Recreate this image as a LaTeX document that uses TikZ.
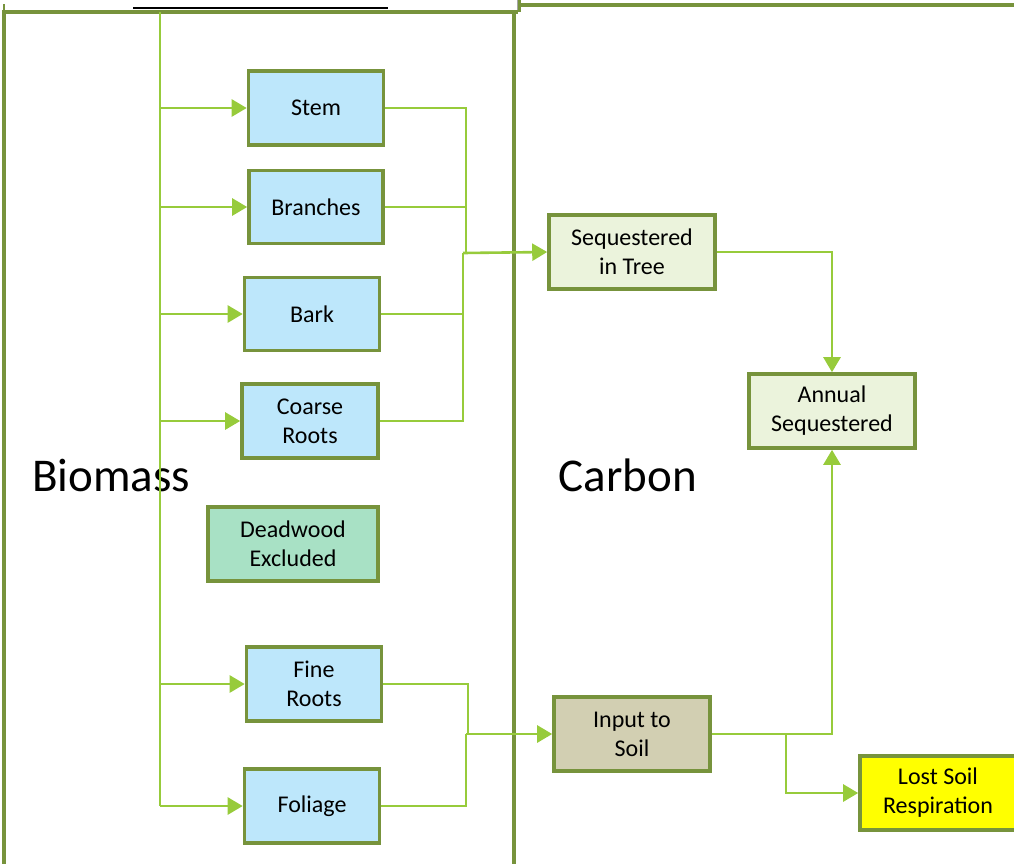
\documentclass[tikz,border=0pt]{standalone}
\usepackage{fontspec}
\setmainfont{Carlito}
\usetikzlibrary{arrows.meta}
\definecolor{bord}{HTML}{77933C}
\definecolor{conn}{HTML}{97CB3B}
\definecolor{fblue}{HTML}{BDE7FB}
\definecolor{fgreen}{HTML}{EBF3DC}
\definecolor{fmint}{HTML}{A8E1C5}
\definecolor{ftan}{HTML}{D2CFB2}
\definecolor{fyel}{HTML}{FFFF00}
\begin{document}
\begin{tikzpicture}[x=1pt,y=-1pt,
  boxs/.style={draw=bord,line width=3.6pt,align=center,inner sep=0pt,
    font=\fontsize{24}{29}\selectfont},
  bx/.style 2 args={boxs,minimum width=#1,minimum height=#2},
  link/.style={draw=conn,line width=2.6pt},
  arr/.style={link,-{Triangle[length=15pt,width=17pt]}},
  big/.style={font=\fontsize{47}{50}\selectfont,inner sep=0pt}]
\useasboundingbox (0,0) rectangle (1014,863);
% panels
\draw[bord,line width=4pt] (4,870) -- (4,12) -- (518,12);
\draw[bord,line width=2.5pt] (4,12) -- (4,4);
\draw[bord,line width=4pt] (514,12) -- (514,870);
\draw[bord,line width=3.5pt] (519,0) -- (519,12);
\draw[bord,line width=3.5pt] (519,5) -- (1020,5);
\draw[gray!70,line width=0.8pt] (517,-2) -- (517,10);
\draw[black,line width=2.5pt] (133,8) -- (388,8);
% labels
\node[big] (biomass) at (111,475) {Biomass};
\node[big] (carbon) at (628,475) {Carbon};
% boxes
\node[bx={135pt}{74pt},fill=fblue] (stem) at (316,108) {Stem};
\node[bx={134pt}{73pt},fill=fblue] (branch) at (316,207) {Branches};
\node[bx={135pt}{73pt},fill=fblue] (bark) at (312,314) {Bark};
\node[bx={136pt}{74pt},fill=fblue] (coarse) at (310,421) {Coarse\\Roots};
\node[bx={170pt}{74pt},fill=fmint] (dead) at (293,544) {Deadwood\\Excluded};
\node[bx={135pt}{74pt},fill=fblue] (fine) at (314,684) {Fine\\Roots};
\node[bx={135pt}{74pt},fill=fblue] (foliage) at (312,806) {Foliage};
\node[bx={166pt}{74pt},fill=fgreen] (seq) at (632,252) {Sequestered\\in Tree};
\node[bx={166pt}{74pt},fill=fgreen] (annual) at (832,411) {Annual\\Sequestered};
\node[bx={156pt}{74pt},fill=ftan] (soil) at (632,734) {Input to\\Soil};
\node[bx={156pt}{74pt},fill=fyel] (lost) at (938,793) {Lost Soil\\Respiration};
% trunk
\coordinate (ttop) at (160,12);
\coordinate (tbot) at (160,806);
\draw[link] (ttop) -- (tbot);
\foreach \n in {stem,branch,bark,coarse,fine,foliage}
  \draw[arr] (ttop |- \n.west) -- (\n.west);
% merge to sequestered
\coordinate (j1) at (466,253);
\coordinate (j2) at (463,253);
\draw[link] (stem.east) -| (j1);
\draw[link] (branch.east) -| (j1);
\draw[link] (bark.east) -| (j2);
\draw[link] (coarse.east) -| (j2);
\draw[arr] (j2) -- (seq.west);
\draw[arr] (seq.east) -| (annual.north);
% merge to soil
\coordinate (j3) at (468,734);
\coordinate (j4) at (466,734);
\draw[link] (fine.east) -| (j3);
\draw[link] (foliage.east) -| (j4);
\draw[arr] (j4) -- (soil.west);
\draw[arr] (soil.east) -| (annual.south);
\coordinate (j5) at (786,734);
\draw[arr] (j5) |- (lost.west);
\end{tikzpicture}
\end{document}
